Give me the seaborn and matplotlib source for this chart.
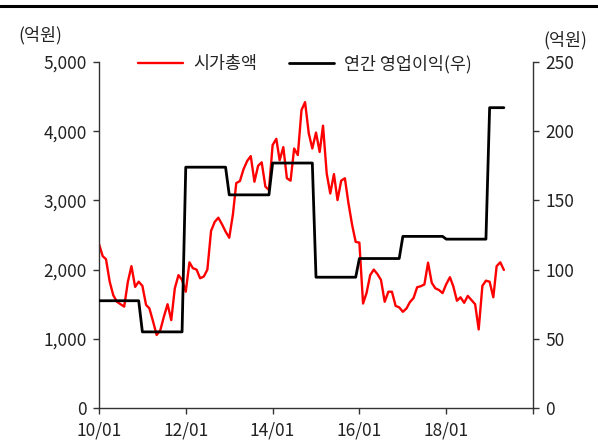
import numpy as np
import pandas as pd
import matplotlib
matplotlib.use("Agg")
import matplotlib.pyplot as plt
import seaborn as sns
from matplotlib.lines import Line2D

sns.set_theme(style="white")
plt.rcParams['font.family'] = ['Noto Sans CJK KR', 'DejaVu Sans']

# ---- data ----
start_month = "2010-01-01"
market_cap = [
    2370, 2195, 2150, 1825, 1630, 1535, 1500, 1465, 1825, 2050, 1750, 1825,
    1765, 1490, 1440, 1250, 1055, 1125, 1320, 1500, 1270, 1730, 1920, 1850,
    1680, 2105, 2020, 2000, 1875, 1900, 2000, 2560, 2690, 2750, 2655, 2550,
    2460, 2800, 3250, 3280, 3450, 3570, 3640, 3270, 3500, 3550, 3200, 3150,
    3800, 3890, 3580, 3770, 3320, 3285, 3750, 3655, 4305, 4420, 3970, 3750,
    3980, 3700, 4080, 3390, 3100, 3380, 3005, 3285, 3320, 2960, 2645, 2400,
    2390, 1510, 1660, 1920, 2000, 1935, 1850, 1535, 1680, 1680, 1475, 1455,
    1390, 1440, 1530, 1590, 1745, 1760, 1785, 2100, 1810, 1730, 1705, 1660,
    1790, 1890, 1760, 1550, 1600, 1520, 1620, 1560, 1500, 1135, 1765, 1840,
    1825, 1600, 2050, 2105, 1995,
]
years = [2010, 2011, 2012, 2013, 2014, 2015, 2016, 2017, 2018, 2019]
op_income_by_year = [77.5, 55, 174, 154, 177, 94.5, 108, 124, 122, 217]
xtick_labels = ['10/01', '12/01', '14/01', '16/01', '18/01', '']
left_ticks = [0, 1000, 2000, 3000, 4000, 5000]
right_ticks = [0, 50, 100, 150, 200, 250]

dates = pd.date_range(start_month, periods=len(market_cap), freq="MS")
inc_map = dict(zip(years, op_income_by_year))
df = pd.DataFrame({
    "date": dates,
    "cap": market_cap,
    "inc": [inc_map[d.year] for d in dates],
})

fig = plt.figure(figsize=(5.98, 4.46), dpi=100)
ax = fig.add_axes([99/598, 1-408/446, (533-99)/598, (408-62)/446])
ax2 = ax.twinx()

sns.lineplot(data=df, x="date", y="cap", ax=ax, color="#ff0000", lw=1.7, legend=False)
sns.lineplot(data=df, x="date", y="inc", ax=ax2, color="#000000", lw=2.0, legend=False)

ax.set_xlim(pd.Timestamp("2010-01-01"), pd.Timestamp("2020-01-01"))
ax.set_ylim(0, 5000)
ax2.set_ylim(0, 250)
xt = [pd.Timestamp(f"{y}-01-01") for y in range(2010, 2021, 2)]
ax.set_xticks(xt)
ax.set_xticklabels(xtick_labels)
ax.set_yticks(left_ticks)
ax.set_yticklabels([f"{v:,}" for v in left_ticks])
ax2.set_yticks(right_ticks)
ax2.set_yticklabels([str(v) for v in right_ticks])
ax.set_xlabel("")
ax.set_ylabel("")
ax2.set_ylabel("")

spine_c = "#333333"
for a in (ax, ax2):
    a.spines['top'].set_visible(False)
    for s in ('left', 'right', 'bottom'):
        a.spines[s].set_color(spine_c)
        a.spines[s].set_linewidth(1.0)
    a.grid(False)
ax.spines['right'].set_visible(False)
ax2.spines['left'].set_visible(False)
ax2.spines['bottom'].set_visible(False)

fs = 12.5
ax.tick_params(axis='both', direction='out', length=4, width=1, color=spine_c,
               labelsize=fs, labelcolor="#222222", left=True, bottom=True, pad=5)
ax2.tick_params(axis='y', direction='out', length=4, width=1, color=spine_c,
                labelsize=fs, labelcolor="#222222", right=True, pad=5)
ax.tick_params(axis='x', pad=6)

fig.text(40/598, 1-35/446, "(억원)", ha='center', va='center', fontsize=fs, color="#222222")
fig.text(565/598, 1-40/446, "(억원)", ha='center', va='center', fontsize=fs, color="#222222")

# top rule
fig.add_artist(Line2D([0, 1], [1-6/446, 1-6/446], transform=fig.transFigure,
                      color="black", lw=2.2))

handles = [Line2D([], [], color="#ff0000", lw=1.7), Line2D([], [], color="black", lw=2.0)]
fig.legend(handles, ["시가총액", "연간 영업이익(우)"], loc='center',
           bbox_to_anchor=(305/598, 1-64/446), ncol=2, frameon=False,
           fontsize=fs, handlelength=2.6, handletextpad=0.6, columnspacing=1.8,
           labelcolor="#222222")

fig.savefig("out.png", dpi=100)
